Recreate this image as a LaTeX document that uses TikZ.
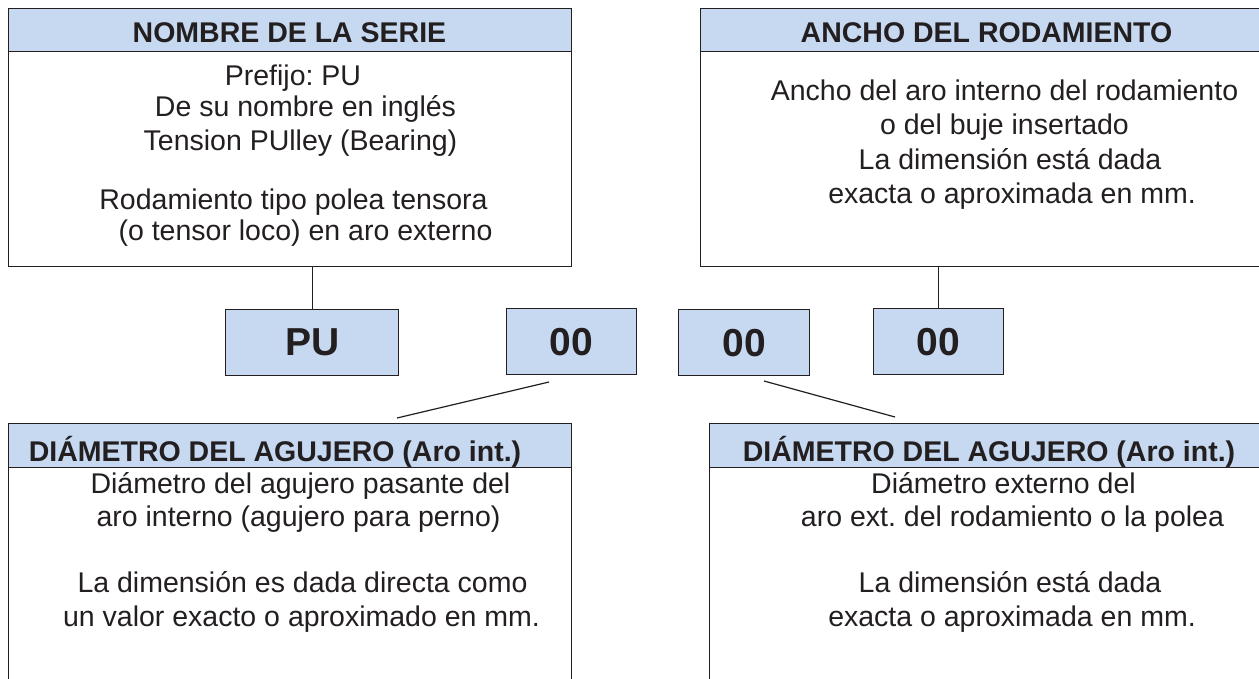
\documentclass[tikz,border=0pt]{standalone}
\usepackage{fontspec}
\setmainfont{Liberation Sans}
\definecolor{hdr}{HTML}{C6D9F1}
\definecolor{ink}{HTML}{231F20}
\frenchspacing
\begin{document}
\begin{tikzpicture}[x=1pt,y=-1pt,
  frame/.style={draw=ink, line width=1.3pt, rectangle, inner sep=0pt, anchor=north west},
  band/.style={frame, fill=hdr},
  codebox/.style={frame, fill=hdr, text=ink, font=\bfseries\fontsize{39}{45}\selectfont},
  htxt/.style={anchor=base, inner sep=0pt, text=ink, font=\bfseries\fontsize{28.5}{34}\selectfont},
  btxt/.style={anchor=base, inner sep=0pt, text=ink, font=\fontsize{28.5}{34}\selectfont},
  link/.style={draw=ink, line width=1.2pt}]
\clip (0,0) rectangle (1259,678);
\fill[white] (0,0) rectangle (1259,678);
% frames
\node[frame, minimum width=563pt, minimum height=258pt] (tl) at (8,8) {};
\node[band, minimum width=563pt, minimum height=43pt] (tlh) at (8,8) {};
\node[frame, minimum width=580pt, minimum height=258pt] (tr) at (700,8) {};
\node[band, minimum width=580pt, minimum height=43pt] (trh) at (700,8) {};
\node[frame, minimum width=563pt, minimum height=300pt] (bl) at (8,423) {};
\node[band, minimum width=563pt, minimum height=44pt] (blh) at (8,423) {};
\node[frame, minimum width=580pt, minimum height=300pt] (br) at (709,423) {};
\node[band, minimum width=580pt, minimum height=44pt] (brh) at (709,423) {};
% code boxes
\node[codebox, minimum width=173pt, minimum height=66pt] (pu) at (225,309) {PU};
\node[codebox, minimum width=130pt, minimum height=66pt] (c1) at (506,308) {00};
\node[codebox, minimum width=131pt, minimum height=66pt] (c2) at (678,309) {00};
\node[codebox, minimum width=130pt, minimum height=66pt] (c3) at (873,308) {00};
% connectors
\draw[link] (pu.north) -- (pu.north |- tl.south);
\draw[link] (c3.north) -- (c3.north |- tr.south);
\coordinate (d1a) at (549,382);
\coordinate (d1b) at (397,418);
\draw[link] (d1a) -- (d1b);
\coordinate (d2a) at (764,381);
\coordinate (d2b) at (895,417);
\draw[link] (d2a) -- (d2b);
% headers
\node[htxt] (tlt) at (289.5,42) {NOMBRE DE LA SERIE};
\node[htxt] (trt) at (986.5,42) {ANCHO DEL RODAMIENTO};
\node[htxt] (blt) at (275,461) {DIÁMETRO DEL AGUJERO (Aro int.)};
\node[htxt] (brt) at (989,461) {DIÁMETRO DEL AGUJERO (Aro int.)};
% top-left body
\node[btxt] (tl1) at (293,85) {Prefijo: PU};
\node[btxt] (tl2) at (305.5,116) {De su nombre en inglés};
\node[btxt] (tl3) at (300.5,150) {Tension PUlley (Bearing)};
\node[btxt] (tl4) at (293.5,209) {Rodamiento tipo polea tensora};
\node[btxt] (tl5) at (305.5,240) {(o tensor loco) en aro externo};
% top-right body
\node[btxt] (tr1) at (1004.5,100) {Ancho del aro interno del rodamiento};
\node[btxt] (tr2) at (1004.5,134) {o del buje insertado};
\node[btxt] (tr3) at (1010,169) {La dimensión está dada};
\node[btxt] (tr4) at (1012,203) {exacta o aproximada en mm.};
% bottom-left body
\node[btxt] (bl1) at (300.5,493) {Diámetro del agujero pasante del};
\node[btxt] (bl2) at (298.5,526) {aro interno (agujero para perno)};
\node[btxt] (bl3) at (302.5,592) {La dimensión es dada directa como};
\node[btxt] (bl4) at (301.5,626) {un valor exacto o aproximado en mm.};
% bottom-right body
\node[btxt] (br1) at (1003.5,493) {Diámetro externo del};
\node[btxt] (br2) at (1012.5,526) {aro ext. del rodamiento o la polea};
\node[btxt] (br3) at (1010,592) {La dimensión está dada};
\node[btxt] (br4) at (1012,626) {exacta o aproximada en mm.};
\end{tikzpicture}
\end{document}
